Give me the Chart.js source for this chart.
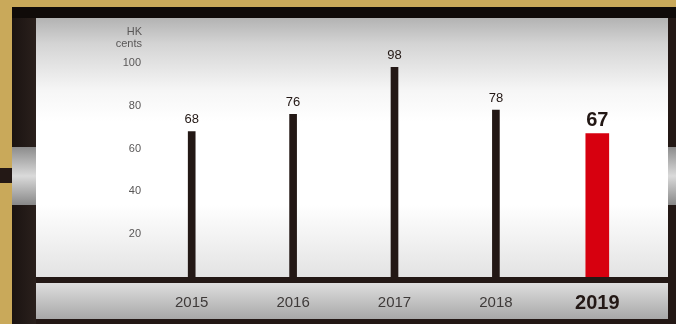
<!DOCTYPE html>
<html>
<head>
<meta charset="utf-8">
<script src="https://cdn.jsdelivr.net/npm/chart.js@4/dist/chart.umd.min.js"></script>
<style>
    body { margin: 0; background: #c9a95a; }
    #wrap { width: 676px; height: 324px; }
</style>
</head>
<body>
<div id="wrap"><canvas id="chart1"></canvas></div>
<script>
const years = ['2015', '2016', '2017', '2018', '2019'];
const dividends = [68, 76, 98, 78, 67];
const currentYear = 4;
const yTicks = [20, 40, 60, 80, 100];
const unitLabel = ['HK', 'cents'];

const FONT = '"Liberation Sans", Arial, Helvetica, sans-serif';
const INK = '#231815';
const RED = '#d7000f';

const pastValues = dividends.map((v, i) => i === currentYear ? null : v);
const currentValues = dividends.map((v, i) => i === currentYear ? v : null);

// frame, panels and side tabs behind the chart
const framePlugin = {
    id: 'frame',
    beforeDraw(chart) {
        const ctx = chart.ctx;
        const w = chart.width, h = chart.height;
        ctx.save();
        ctx.fillStyle = '#c9a95a';
        ctx.fillRect(0, 0, w, h);

        let g = ctx.createLinearGradient(12, 0, 36, 0);
        g.addColorStop(0, '#1a1311');
        g.addColorStop(1, '#2a201c');
        ctx.fillStyle = g;
        ctx.fillRect(12, 7, w - 12, h - 7);
        ctx.fillStyle = '#100b09';
        ctx.fillRect(12, 7, w - 12, 11);
        ctx.fillStyle = INK;
        ctx.fillRect(36, 18, w - 36, h - 18);

        g = ctx.createLinearGradient(0, 18, 0, 277);
        g.addColorStop(0, '#b3b3b3');
        g.addColorStop(0.1, '#d4d4d4');
        g.addColorStop(0.28, '#f6f6f6');
        g.addColorStop(0.4, '#ffffff');
        g.addColorStop(0.72, '#ffffff');
        g.addColorStop(1, '#e3e3e3');
        ctx.fillStyle = g;
        ctx.fillRect(36, 18, 632, 259);

        g = ctx.createLinearGradient(0, 283, 0, 319);
        g.addColorStop(0, '#dedede');
        g.addColorStop(1, '#a8a8a8');
        ctx.fillStyle = g;
        ctx.fillRect(36, 283, 632, 36);

        g = ctx.createLinearGradient(0, 147, 0, 205);
        g.addColorStop(0, '#8c8c8c');
        g.addColorStop(0.5, '#dadada');
        g.addColorStop(1, '#888888');
        ctx.fillStyle = g;
        ctx.fillRect(12, 147, 24, 58);
        ctx.fillRect(668, 147, 8, 58);

        ctx.fillStyle = INK;
        ctx.fillRect(0, 168, 12, 15);
        ctx.restore();
    }
};

// value labels above bars and the unit caption over the y ticks
const labelPlugin = {
    id: 'valueLabels',
    afterDatasetsDraw(chart) {
        const ctx = chart.ctx;
        ctx.save();
        ctx.textAlign = 'center';
        ctx.textBaseline = 'middle';
        chart.data.datasets.forEach((ds, di) => {
            const meta = chart.getDatasetMeta(di);
            meta.data.forEach((bar, i) => {
                const v = ds.data[i];
                if (v === null) return;
                if (i === currentYear) {
                    ctx.font = 'bold 20px ' + FONT;
                    ctx.fillStyle = INK;
                    ctx.fillText(String(v), bar.x, bar.y - 13);
                } else {
                    ctx.font = '13px ' + FONT;
                    ctx.fillStyle = INK;
                    ctx.fillText(String(v), bar.x, bar.y - 12);
                }
            });
        });

        const y = chart.scales.y;
        ctx.textAlign = 'right';
        ctx.font = '11px ' + FONT;
        ctx.fillStyle = '#595757';
        ctx.fillText(unitLabel[0], y.right + 1, 32);
        ctx.fillText(unitLabel[1], y.right + 1, 44);
        ctx.restore();
    }
};

new Chart(document.getElementById('chart1').getContext('2d'), {
    type: 'bar',
    data: {
        labels: years,
        datasets: [
            {
                label: 'Dividend',
                data: pastValues,
                backgroundColor: INK,
                barThickness: 7,
                grouped: false
            },
            {
                label: 'Dividend 2019',
                data: currentValues,
                backgroundColor: RED,
                barThickness: 23,
                grouped: false
            }
        ]
    },
    options: {
        responsive: true,
        maintainAspectRatio: false,
        animation: false,
        layout: { padding: { left: 0, right: 28, top: 63, bottom: 0 } },
        plugins: {
            legend: { display: false },
            tooltip: { enabled: false }
        },
        scales: {
            x: {
                grid: { display: false, drawTicks: false },
                border: { display: false },
                afterFit: scale => { scale.height = 47; },
                ticks: {
                    padding: 17,
                    autoSkip: false,
                    maxRotation: 0,
                    font: c => c.index === currentYear
                        ? { family: FONT, size: 20, weight: 'bold', lineHeight: 0.9 }
                        : { family: FONT, size: 15, lineHeight: 1.2 },
                    color: c => c.index === currentYear ? INK : '#3e3a39'
                }
            },
            y: {
                min: 0,
                max: 100,
                grid: { display: false, drawTicks: false },
                border: { display: false },
                afterFit: scale => { scale.width = 141; },
                afterBuildTicks: scale => {
                    scale.ticks = yTicks.map(v => ({ value: v }));
                },
                ticks: {
                    padding: 0,
                    color: '#595757',
                    font: { family: FONT, size: 11 }
                }
            }
        }
    },
    plugins: [framePlugin, labelPlugin]
});
</script>
</body>
</html>
